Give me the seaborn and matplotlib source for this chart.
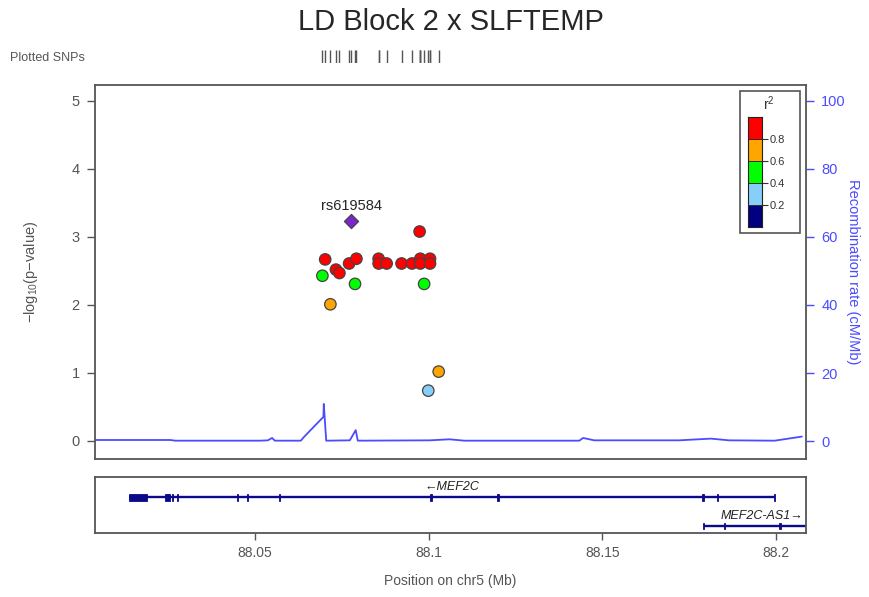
import numpy as np
import pandas as pd
import matplotlib.pyplot as plt
import seaborn as sns
from matplotlib.patches import Rectangle

# ---- data ----
title = "LD Block 2 x SLFTEMP"
lead_snp = "rs619584"
lead_pos = 88.0777
lead_logp = 3.24

snp_pos = [88.0702, 88.0694, 88.0733, 88.0743, 88.0771, 88.0792, 88.0788,
           88.0717, 88.0856, 88.0856, 88.0879, 88.0922, 88.0952, 88.0974,
           88.0976, 88.0976, 88.1004, 88.1004, 88.0987, 88.1029, 88.0999]
snp_logp = [2.67, 2.43, 2.52, 2.47, 2.61, 2.68, 2.31,
            2.01, 2.68, 2.61, 2.61, 2.61, 2.61, 3.08,
            2.68, 2.61, 2.68, 2.61, 2.31, 1.02, 0.74]
snp_r2 = [0.9, 0.5, 0.9, 0.9, 0.9, 0.9, 0.5,
          0.7, 0.9, 0.9, 0.9, 0.9, 0.9, 0.9,
          0.9, 0.9, 0.9, 0.9, 0.5, 0.7, 0.3]

recomb_pos = [88.0039, 88.0256, 88.0270, 88.0514, 88.0537, 88.0549, 88.0557,
              88.0632, 88.0641, 88.0697, 88.0698, 88.0705, 88.0773, 88.0790,
              88.0796, 88.1003, 88.1060, 88.1103, 88.1434, 88.1445, 88.1477,
              88.1721, 88.1813, 88.1865, 88.1997, 88.2075]
recomb_rate = [0.3, 0.3, 0.1, 0.1, 0.2, 0.9, 0.1,
               0.1, 1.2, 7.1, 10.9, 0.1, 0.2, 3.2,
               0.1, 0.2, 0.5, 0.1, 0.1, 0.9, 0.2,
               0.2, 0.7, 0.2, 0.1, 1.3]

r2_breaks = [0, 0.2, 0.4, 0.6, 0.8, 1.0]
r2_labels = ["0-0.2", "0.2-0.4", "0.4-0.6", "0.6-0.8", "0.8-1"]
r2_colors = ["#000080", "#87CEFA", "#00FF00", "#FFA500", "#FF0000"]

genes = ["MEF2C", "MEF2C-AS1"]
gene_start = [88.0138, 88.1792]
gene_end = [88.1998, 88.2150]
gene_strand = ["-", "+"]
gene_exons = [
    [(88.0138, 88.0190), (88.0242, 88.0256), (88.0261, 88.0264), (88.0275, 88.0278),
     (88.0448, 88.0451), (88.0477, 88.0480), (88.0568, 88.0572), (88.1005, 88.1009),
     (88.1198, 88.1202), (88.1788, 88.1793), (88.1831, 88.1834), (88.1996, 88.1999)],
    [(88.1791, 88.1794), (88.1851, 88.1854), (88.2010, 88.2016)],
]

xticks = [88.05, 88.1, 88.15, 88.2]
xtick_labels = ["88.05", "88.1", "88.15", "88.2"]

# ---- style ----
sns.set_style("white")
plt.rcParams['font.family'] = ['Liberation Sans', 'DejaVu Sans']
plt.rcParams['mathtext.fontset'] = 'custom'
plt.rcParams['mathtext.rm'] = 'Liberation Sans'
plt.rcParams['mathtext.it'] = 'Liberation Sans:italic'

grey = "#555555"
blue = "#4B4BFF"
navy = "#0A0A8A"
xlim = (88.0039, 88.2087)

W, H = 869, 597
fig = plt.figure(figsize=(W / 100, H / 100), dpi=100)


def box(l, t, r, b):
    return [l / W, 1 - b / H, (r - l) / W, (b - t) / H]


ax = fig.add_axes(box(95, 85, 806, 459))
ax2 = ax.twinx()
ax_rug = fig.add_axes(box(95, 50, 806, 63))
ax_gene = fig.add_axes(box(95, 476.7, 806, 533.3))

# recombination rate
sns.lineplot(x=recomb_pos, y=recomb_rate, ax=ax2, color=blue, lw=1.3,
             sort=False, estimator=None)
ax2.set_ylim(-5.29, 104.7)
ax2.set_yticks([0, 20, 40, 60, 80, 100])
ax2.tick_params(axis='y', right=True, direction='out', length=6, width=1,
                colors=blue, labelsize=10.5, pad=5)
ax2.set_ylabel("Recombination rate (cM/Mb)", color=blue, fontsize=10.5,
               rotation=270)
ax2.yaxis.set_label_coords(1.076, 0.5)
for s in ax2.spines.values():
    s.set_visible(False)

# association points
df = pd.DataFrame({"pos": snp_pos, "logp": snp_logp, "r2": snp_r2})
df["ld"] = pd.cut(df["r2"], r2_breaks, labels=r2_labels)
sns.scatterplot(data=df, x="pos", y="logp", hue="ld",
                palette=dict(zip(r2_labels, r2_colors)), s=68,
                edgecolor="#444444", linewidth=0.9, legend=False, ax=ax, zorder=3)
sns.scatterplot(x=[lead_pos], y=[lead_logp], marker="D", color="#7D26CD",
                s=52, edgecolor="#444444", linewidth=0.9, ax=ax, zorder=4)
ax.text(lead_pos, lead_logp + 0.11, lead_snp, ha="center", va="bottom",
        fontsize=10.5)

ax.set_zorder(ax2.get_zorder() + 1)
ax.patch.set_visible(False)
ax.set_xlim(xlim)
ax.set_ylim(-0.265, 5.235)
ax.set_xticks([])
ax.set_yticks(range(6))
ax.tick_params(axis='y', left=True, direction='out', length=6, width=1,
               color=grey, labelcolor=grey, labelsize=10.5, pad=5)
ax.set_xlabel("")
ax.set_ylabel("\u2212log$_{10}$(p\u2212value)", color=grey, fontsize=10.5)
ax.yaxis.set_label_coords(-0.078, 0.5)
for s in ax.spines.values():
    s.set_color(grey)
    s.set_linewidth(1.3)

# r2 legend
ax.add_patch(Rectangle((0.907, 0.604), 0.0846, 0.38, transform=ax.transAxes,
                       facecolor="white", edgecolor=grey, lw=1.2, zorder=5))
ax_leg = fig.add_axes(box(748.3, 116.7, 762.3, 226.7))
ax_leg.set_zorder(ax.get_zorder() + 1)
for i, c in enumerate(r2_colors):
    ax_leg.bar(0, 1, bottom=i, width=1, color=c, edgecolor="#222222", lw=0.6)
ax_leg.set_xlim(-0.5, 0.5)
ax_leg.set_ylim(0, 5)
ax_leg.set_xticks([])
ax_leg.yaxis.tick_right()
ax_leg.set_yticks([1, 2, 3, 4])
ax_leg.set_yticklabels(["0.2", "0.4", "0.6", "0.8"])
ax_leg.tick_params(axis='y', right=True, direction='out', length=4, width=0.8,
                   color="#333333", labelcolor="#333333", labelsize=8, pad=1)
for s in ax_leg.spines.values():
    s.set_color("#222222")
    s.set_linewidth(0.8)
fig.text(769 / W, 1 - 104 / H, "r$^2$", ha="center", va="center",
         fontsize=10, color="#333333")

# plotted SNPs rug
sns.rugplot(x=snp_pos + [lead_pos], height=1, ax=ax_rug, color="#555555", lw=0.8)
ax_rug.set_xlim(xlim)
ax_rug.set_ylim(0, 1)
ax_rug.axis("off")
fig.text(10 / W, 1 - 58 / H, "Plotted SNPs", ha="left", va="center",
         fontsize=9, color=grey)

# gene track
gene_rows = [0.636, 0.129]
for name, st, en, strand, exons, y in zip(genes, gene_start, gene_end,
                                          gene_strand, gene_exons, gene_rows):
    ax_gene.plot([st, en], [y, y], color=navy, lw=1.7, solid_capstyle="butt")
    for es, ee in exons:
        ax_gene.add_patch(Rectangle((es, y - 0.058), ee - es, 0.116,
                                    facecolor=navy, edgecolor=navy, lw=0.6))
    if strand == "-":
        ax_gene.text((st + en) / 2, y + 0.18, "\u2190" + name, ha="center",
                     va="center", fontsize=9, style="italic", color="#222222")
    else:
        ax_gene.text(xlim[1] - 0.0008, y + 0.18, name + "\u2192", ha="right",
                     va="center", fontsize=9, style="italic", color="#222222")

ax_gene.set_xlim(xlim)
ax_gene.set_ylim(0, 1)
ax_gene.set_yticks([])
ax_gene.set_xticks(xticks)
ax_gene.set_xticklabels(xtick_labels)
ax_gene.tick_params(axis='x', bottom=True, direction='out', length=5, width=1,
                    color=grey, labelcolor=grey, labelsize=10, pad=4)
ax_gene.set_xlabel("Position on chr5 (Mb)", color=grey, fontsize=10)
ax_gene.xaxis.set_label_coords(0.5, -0.72)
for s in ax_gene.spines.values():
    s.set_color(grey)
    s.set_linewidth(1.3)

fig.text(451 / W, 1 - 22 / H, title, ha="center", va="center", fontsize=21)

plt.savefig("out.png", dpi=100)
